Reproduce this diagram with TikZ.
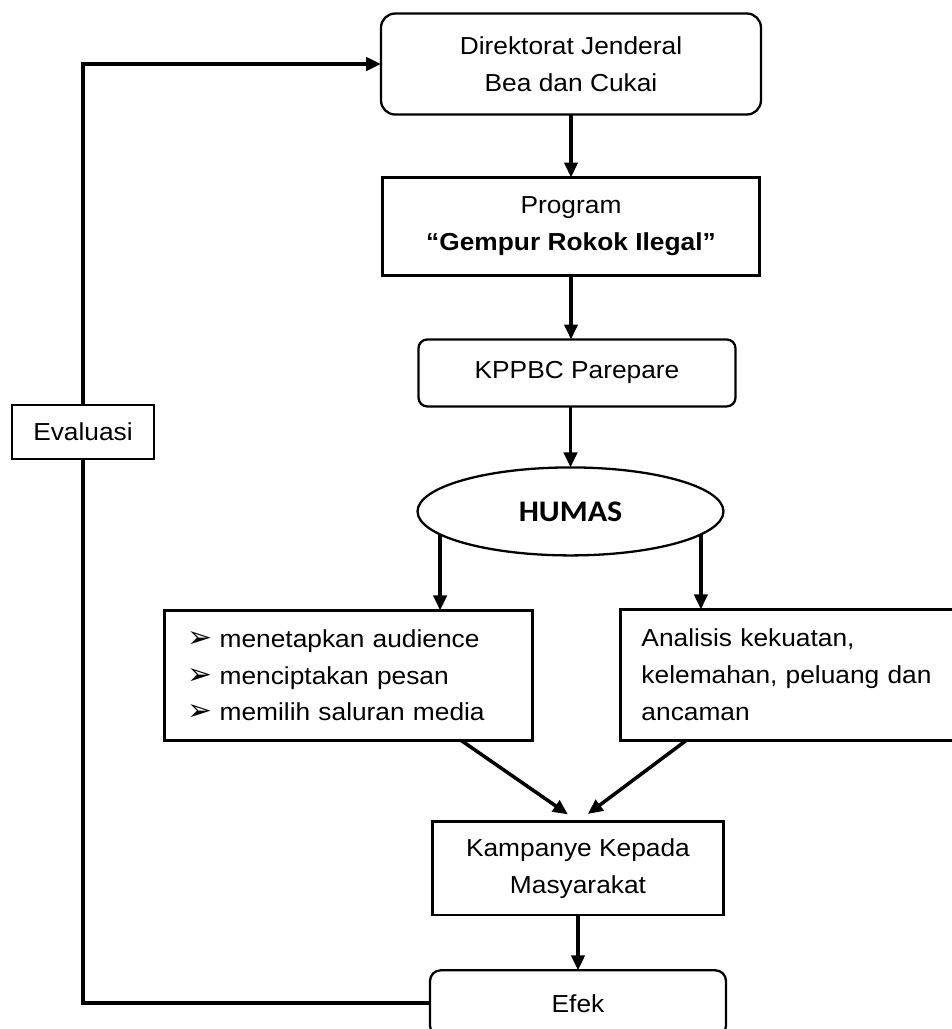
\documentclass[tikz,border=0pt]{standalone}
\usepackage{fontspec}
\setmainfont{Liberation Sans}[FakeStretch=1.07]
\newfontfamily\humasfont{Carlito}[FakeStretch=1.07]
\newfontfamily\arrowfont{DejaVu Sans}
\usepackage{tikz}
\usetikzlibrary{shapes.geometric, arrows.meta, positioning, backgrounds}
\newcommand{\pointer}{{\arrowfont\fontsize{17}{17}\selectfont ➢}\hspace{4pt}}

\begin{document}
\begin{tikzpicture}[
      x=0.02cm, y=-0.02cm,
      box/.style={
        rectangle, draw, line width=1.3pt, fill=white, outer sep=0pt,
        font=\fontsize{14}{20.9}\selectfont, align=center, inner sep=2pt
      },
      rbox/.style={box, rounded corners=6pt},
      oval/.style={
        ellipse, draw, line width=1.3pt, fill=white, outer sep=0pt,
        minimum width=6.12cm, minimum height=1.76cm, inner sep=0pt,
        font=\humasfont\bfseries\fontsize{17}{17}\selectfont
      },
      arr/.style={-{Triangle[length=8.5pt, width=7.5pt]}, line width=2pt},
      fb/.style={line width=2.3pt}
  ]
    \useasboundingbox (0,0) rectangle (952,1029);
    \clip (0,0) rectangle (952,1029);

    \node[rbox, minimum width=7.6cm, minimum height=2.02cm, rounded corners=8pt] (dje) at (571,64) {Direktorat Jenderal\\Bea dan Cukai};
    \node[box, minimum width=7.54cm, minimum height=1.96cm] (prog) [below=1.26cm of dje] {Program\\\textbf{“Gempur Rokok Ilegal”}};
    \node[rbox, minimum width=6.34cm, minimum height=1.34cm, rounded corners=5pt] (kppbc) [below=1.28cm of prog, xshift=0.12cm] {KPPBC Parepare};
    \node[oval] (humas) [below=1.22cm of kppbc, xshift=-0.13cm] {HUMAS};
    \node[box, text width=6.44cm, inner xsep=0.46cm, minimum height=2.6cm, align=left] (tasks) [below=1.1cm of humas, xshift=-4.44cm] {\pointer menetapkan audience\\\pointer menciptakan pesan\\\pointer memilih saluran media};
    \node[box, text width=6.52cm, inner xsep=0.42cm, minimum height=2.62cm, align=left] (swot) [below=1.08cm of humas, xshift=4.68cm] {Analisis kekuatan,\\kelemahan, peluang dan\\ancaman};
    \node[box, minimum width=5.82cm, minimum height=1.88cm] (kamp) [below=1.62cm of tasks, xshift=4.59cm] {Kampanye Kepada\\Masyarakat};
    \node[rbox, minimum width=5.92cm, minimum height=1.32cm] (efek) [below=1.1cm of kamp] {Efek};
    \node[box, minimum width=2.84cm, minimum height=1.08cm] (eval) at (83,432) {Evaluasi};

    \draw[arr] (dje) -- (prog);
    \draw[arr] (prog) -- (prog |- kppbc.north);
    \draw[arr] (humas |- kppbc.south) -- (humas);
    \draw[arr] (humas.190) -- (humas.190 |- tasks.north);
    \draw[arr] (humas.-10) -- (humas.-10 |- swot.north);
    \draw[arr, shorten >=7pt] (tasks.-30) -- (kamp.north);
    \draw[arr, shorten >=7pt] (swot.209) -- (kamp.north);
    \draw[arr] (kamp) -- (efek);

    % feedback loop
    \begin{scope}[on background layer]
      \draw[fb, -{Triangle[length=8.5pt, width=7.5pt]}] (efek.west) -| (eval.center) |- (dje.west);
    \end{scope}
  \end{tikzpicture}
\end{document}
